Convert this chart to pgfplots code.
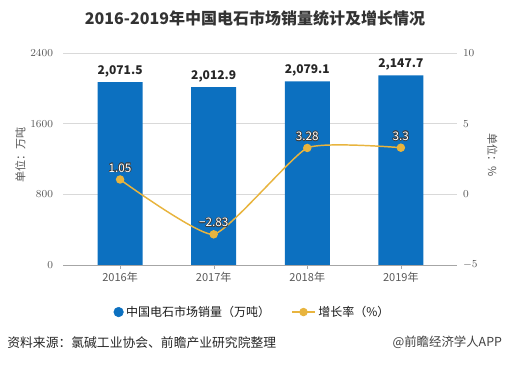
\documentclass[border=0pt]{standalone}
\usepackage{pgfplots}
\pgfplotsset{compat=1.18}
\usepackage{fontspec}
\setmainfont{Noto Sans CJK SC}
\definecolor{barblue}{RGB}{12,112,192}
\definecolor{linegold}{RGB}{232,180,62}
\definecolor{tickgray}{RGB}{89,89,89}
\definecolor{haloc}{RGB}{60,60,60}
\newcommand{\halo}[1]{\leavevmode
  \rlap{\color{haloc}\hspace{0.55pt}#1}%
  \rlap{\color{haloc}\hspace{-0.55pt}#1}%
  \rlap{\color{haloc}\raisebox{0.55pt}{#1}}%
  \rlap{\color{haloc}\raisebox{-0.55pt}{#1}}%
  \rlap{\color{haloc}\hspace{0.4pt}\raisebox{0.4pt}{#1}}%
  \rlap{\color{haloc}\hspace{-0.4pt}\raisebox{0.4pt}{#1}}%
  \rlap{\color{haloc}\hspace{0.4pt}\raisebox{-0.4pt}{#1}}%
  \rlap{\color{haloc}\hspace{-0.4pt}\raisebox{-0.4pt}{#1}}%
  {\color{white}#1}}
\begin{document}
\begin{tikzpicture}[x=1pt,y=1pt]
\useasboundingbox (0,0) rectangle (382.5,274.5);
\node[font=\fontsize{12}{14}\selectfont\bfseries, text=black!80] at (191.25,261) {2016-2019年中国电石市场销量统计及增长情况};
\begin{axis}[
  at={(47.25pt,75.75pt)}, anchor=south west,
  scale only axis, width=295.5pt, height=159pt,
  xmin=-0.61, xmax=3.6, ymin=0, ymax=2400,
  ytick={0,800,1600,2400},
  yticklabel style={/pgf/number format/1000 sep={}},
  xtick={0,1,2,3},
  xticklabels={2016年,2017年,2018年,2019年},
  axis x line*=bottom, axis y line*=left,
  y axis line style={draw=none},
  x axis line style={draw=black!35},
  ymajorgrids, grid style={draw=black!15},
  major tick length=3pt,
  ytick style={draw=none},
  xtick style={draw=black!35},
  tick align=outside,
  ticklabel style={font=\fontsize{8.3}{10}\selectfont, text=tickgray},
  yticklabel style={xshift=-1pt},
  xticklabel style={yshift=1pt},
  ylabel={单位：万吨},
  ylabel style={font=\fontsize{8.3}{10}\selectfont, text=tickgray, at={(axis description cs:-0.108,0.52)}, anchor=center, rotate=0},
  clip=false,
]
\addplot[ybar, bar width=33.75pt, fill=barblue, draw=none,
  point meta=explicit symbolic,
  nodes near coords, every node near coord/.append style={font=\fontsize{9}{11}\selectfont\bfseries, text=black!85, yshift=0pt}]
  coordinates {(0,2071.5) [{2,071.5}] (1,2012.9) [{2,012.9}] (2,2079.1) [{2,079.1}] (3,2147.7) [{2,147.7}]};
\end{axis}
\begin{axis}[
  at={(47.25pt,75.75pt)}, anchor=south west,
  scale only axis, width=295.5pt, height=159pt,
  xmin=-0.61, xmax=3.6, ymin=-5, ymax=10,
  ytick={-5,0,5,10},
  hide x axis,
  axis y line*=right,
  y axis line style={draw=none},
  ytick style={draw=none},
  ticklabel style={font=\fontsize{8.3}{10}\selectfont, text=tickgray},
  yticklabel style={xshift=1pt},
  ylabel={单位：\%},
  ylabel style={font=\fontsize{8.3}{10}\selectfont, text=tickgray, at={(axis description cs:1.09,0.52)}, anchor=center, rotate=180},
  clip=false,
  legend style={at={(0.482,-0.222)}, anchor=center, draw=none, fill=none,
    legend columns=2, font=\fontsize{9}{10}\selectfont, text=black!90,
    /tikz/every even column/.append style={column sep=14pt}},
  legend cell align=left,
]
\addlegendimage{only marks, mark=*, mark size=3.6pt, mark options={fill=barblue, draw=barblue}}
\addlegendentry{中国电石市场销量（万吨）}
\addplot[smooth, tension=0.28, draw=linegold, line width=1.1pt, mark=*, mark size=2.6pt, mark options={fill=linegold, draw=linegold},
  point meta=explicit symbolic,
  nodes near coords={\halo{\pgfplotspointmeta}},
  every node near coord/.append style={font=\fontsize{8.8}{10}\selectfont, anchor=south, yshift=1pt}]
  coordinates {(0,1.05) [1.05] (1,-2.83) [−2.83] (2,3.28) [3.28] (3,3.3) [3.3]};
\addlegendentry{增长率（\%）}
\end{axis}
\node[anchor=west, font=\fontsize{9.6}{11}\selectfont, text=black!85] at (2,17.5) {资料来源：氯碱工业协会、前瞻产业研究院整理};
\node[anchor=east, font=\fontsize{9.3}{11}\selectfont, text=black!75] at (380,17.5) {@前瞻经济学人APP};
\end{tikzpicture}
\end{document}
